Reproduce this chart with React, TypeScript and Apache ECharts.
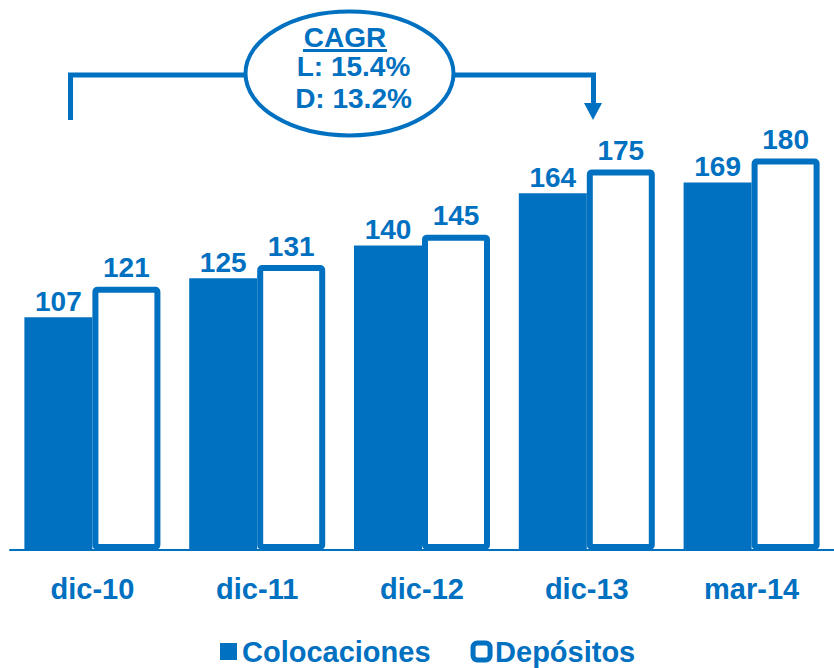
import React, { useEffect, useRef } from "react";
import * as echarts from "echarts";

const categories = ["dic-10", "dic-11", "dic-12", "dic-13", "mar-14"];
const colocaciones = [107, 125, 140, 164, 169];
const depositos = [121, 131, 145, 175, 180];
const seriesNames = ["Colocaciones", "Depósitos"];
const cagrTitle = "CAGR";
const cagrLines = ["L: 15.4%", "D: 13.2%"];

const BLUE = "#0070C0";
const FONT = "'Liberation Sans', Arial, Helvetica, sans-serif";

export default function App() {
  const ref = useRef<HTMLDivElement>(null);
  useEffect(() => {
    document.body.style.margin = "0";
    if (!ref.current) return;
    const chart = echarts.init(ref.current, undefined, { renderer: "svg" });
    chart.setOption({
      animation: false,
      textStyle: { fontFamily: FONT },
      grid: { left: 10, right: 0, top: 115, bottom: 118 },
      xAxis: {
        type: "category",
        data: categories,
        axisLine: { lineStyle: { color: BLUE, width: 2 } },
        axisTick: { length: 9, lineStyle: { color: BLUE, width: 1.5 } },
        axisLabel: {
          color: BLUE,
          fontSize: 29,
          fontWeight: "bold",
          fontFamily: FONT,
          margin: 24,
        },
      },
      yAxis: {
        type: "value",
        min: 0,
        max: 200,
        show: false,
        splitLine: { show: false },
      },
      legend: {
        left: 220,
        top: 637,
        padding: 0,
        itemWidth: 17,
        itemHeight: 17,
        itemGap: 40,
        textStyle: {
          color: BLUE,
          fontSize: 29,
          lineHeight: 24,
          fontWeight: "bold",
          fontFamily: FONT,
        },
        data: [
          { name: seriesNames[0], icon: "rect", itemStyle: { color: BLUE, borderWidth: 0 } },
          {
            name: seriesNames[1],
            icon: "roundRect",
            itemStyle: { color: "#fff", borderColor: BLUE, borderWidth: 5 },
          },
        ],
      },
      series: [
        {
          name: seriesNames[0],
          type: "bar",
          data: colocaciones,
          barWidth: 68,
          barGap: "0%",
          itemStyle: { color: BLUE },
          label: {
            show: true,
            position: "top",
            distance: 2,
            color: BLUE,
            fontSize: 28,
            fontWeight: "bold",
            fontFamily: FONT,
          },
        },
        {
          name: seriesNames[1],
          type: "bar",
          data: depositos,
          barWidth: 68,
          barGap: "0%",
          itemStyle: {
            color: "#fff",
            borderColor: BLUE,
            borderWidth: 6,
            borderJoin: "round",
            borderRadius: 2,
          },
          label: {
            show: true,
            position: "top",
            distance: 5,
            color: BLUE,
            fontSize: 28,
            fontWeight: "bold",
            fontFamily: FONT,
          },
        },
      ],
      graphic: [
        {
          type: "polyline",
          shape: { points: [[70.5, 120], [70.5, 75], [245, 75]] },
          style: { stroke: BLUE, lineWidth: 5, fill: null },
        },
        {
          type: "polyline",
          shape: { points: [[455, 75], [593.5, 75], [593.5, 106]] },
          style: { stroke: BLUE, lineWidth: 5, fill: null },
        },
        {
          type: "polygon",
          shape: { points: [[584, 103], [602, 103], [593, 120]] },
          style: { fill: BLUE },
        },
        {
          type: "ellipse",
          shape: { cx: 349.5, cy: 73.5, rx: 104, ry: 62 },
          style: { fill: "#fff", stroke: BLUE, lineWidth: 4 },
        },
        {
          type: "text",
          x: 345,
          y: 37,
          style: {
            text: cagrTitle,
            fill: BLUE,
            font: `bold 28px ${FONT}`,
            textAlign: "center",
            textVerticalAlign: "middle",
          },
        },
        {
          type: "line",
          shape: { x1: 303, y1: 50.5, x2: 387, y2: 50.5 },
          style: { stroke: BLUE, lineWidth: 3 },
        },
        {
          type: "text",
          x: 353.5,
          y: 66,
          style: {
            text: cagrLines[0],
            fill: BLUE,
            font: `bold 28px ${FONT}`,
            textAlign: "center",
            textVerticalAlign: "middle",
          },
        },
        {
          type: "text",
          x: 353.5,
          y: 98,
          style: {
            text: cagrLines[1],
            fill: BLUE,
            font: `bold 28px ${FONT}`,
            textAlign: "center",
            textVerticalAlign: "middle",
          },
        },
      ],
    });
    return () => chart.dispose();
  }, []);
  return <div ref={ref} style={{ width: 834, height: 668 }} />;
}
